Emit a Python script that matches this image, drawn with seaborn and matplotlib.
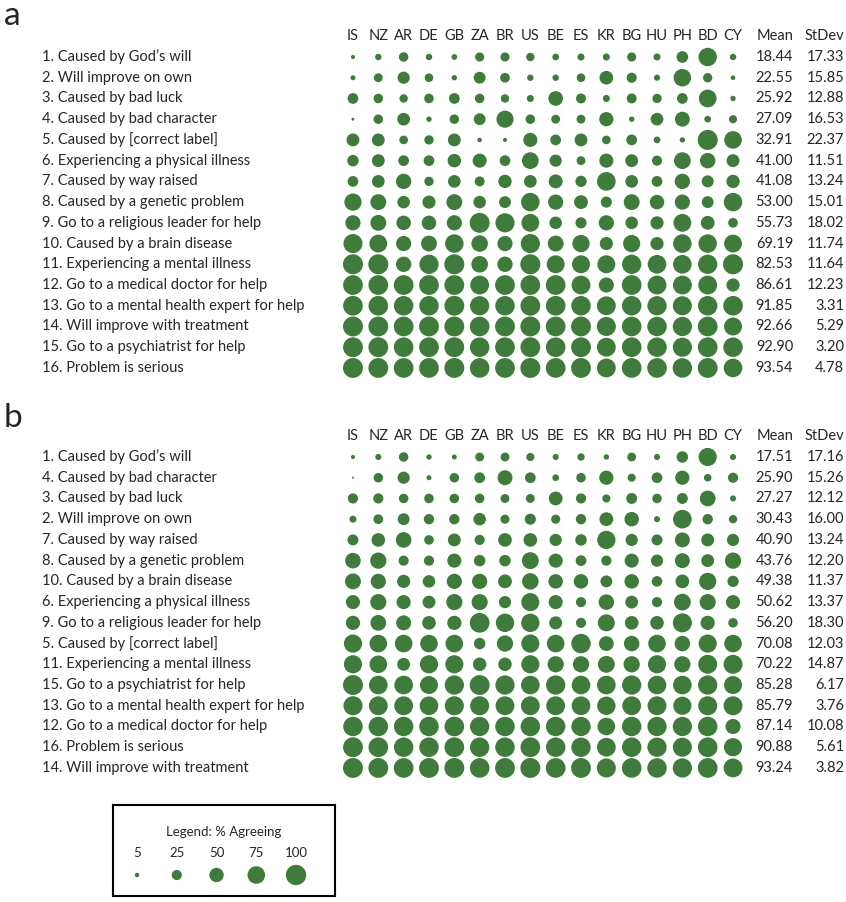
import matplotlib
matplotlib.use("Agg")
import matplotlib.pyplot as plt
import matplotlib.transforms as mtransforms
import pandas as pd
import seaborn as sns

# country columns (same for both panels)
countries = ["IS", "NZ", "AR", "DE", "GB", "ZA", "BR", "US",
             "BE", "ES", "KR", "BG", "HU", "PH", "BD", "CY"]

# panel a: items in original order
items_a = [
    "1. Caused by God\u2019s will",
    "2. Will improve on own",
    "3. Caused by bad luck",
    "4. Caused by bad character",
    "5. Caused by [correct label]",
    "6. Experiencing a physical illness",
    "7. Caused by way raised",
    "8. Caused by a genetic problem",
    "9. Go to a religious leader for help",
    "10. Caused by a brain disease",
    "11. Experiencing a mental illness",
    "12. Go to a medical doctor for help",
    "13. Go to a mental health expert for help",
    "14. Will improve with treatment",
    "15. Go to a psychiatrist for help",
    "16. Problem is serious",
]
pct_a = [
    [4, 10, 22, 10, 8, 20, 20, 17, 11, 12, 12, 20, 12, 33, 82, 10],
    [6, 19, 36, 18, 7, 34, 23, 10, 10, 18, 45, 25, 9, 74, 21, 5],
    [28, 22, 17, 22, 28, 22, 17, 12, 52, 24, 12, 24, 21, 28, 76, 7],
    [2, 22, 39, 7, 22, 34, 71, 22, 19, 19, 49, 7, 39, 54, 11, 16],
    [40, 40, 18, 21, 40, 5, 4, 48, 28, 40, 18, 28, 11, 7, 97, 75],
    [32, 40, 28, 28, 44, 48, 28, 68, 36, 19, 48, 40, 25, 68, 58, 40],
    [28, 39, 57, 21, 39, 24, 43, 39, 47, 31, 84, 39, 28, 57, 35, 43],
    [72, 61, 38, 42, 61, 38, 34, 83, 56, 46, 30, 61, 51, 56, 34, 83],
    [56, 61, 51, 51, 56, 96, 89, 77, 38, 30, 56, 38, 42, 77, 46, 23],
    [88, 77, 56, 61, 83, 66, 56, 89, 61, 72, 42, 72, 42, 83, 83, 77],
    [97, 97, 57, 90, 97, 67, 57, 97, 78, 78, 78, 90, 84, 84, 90, 97],
    [94, 94, 94, 94, 95, 86, 94, 94, 94, 86, 55, 94, 86, 86, 86, 42],
    [94, 93, 92, 92, 95, 90, 92, 95, 93, 92, 86, 92, 90, 88, 92, 93],
    [96, 95, 94, 95, 96, 93, 95, 96, 94, 95, 88, 93, 92, 90, 94, 78],
    [95, 95, 93, 94, 95, 92, 94, 95, 93, 94, 86, 93, 92, 89, 94, 92],
    [96, 95, 94, 94, 96, 93, 94, 96, 94, 95, 86, 94, 93, 92, 95, 84],
]
mean_a = ["18.44", "22.55", "25.92", "27.09", "32.91", "41.00", "41.08", "53.00",
          "55.73", "69.19", "82.53", "86.61", "91.85", "92.66", "92.90", "93.54"]
sd_a = ["17.33", "15.85", "12.88", "16.53", "22.37", "11.51", "13.24", "15.01",
        "18.02", "11.74", "11.64", "12.23", "3.31", "5.29", "3.20", "4.78"]

# panel b: items sorted by mean
items_b = [
    "1. Caused by God\u2019s will",
    "4. Caused by bad character",
    "3. Caused by bad luck",
    "2. Will improve on own",
    "7. Caused by way raised",
    "8. Caused by a genetic problem",
    "10. Caused by a brain disease",
    "6. Experiencing a physical illness",
    "9. Go to a religious leader for help",
    "5. Caused by [correct label]",
    "11. Experiencing a mental illness",
    "15. Go to a psychiatrist for help",
    "13. Go to a mental health expert for help",
    "12. Go to a medical doctor for help",
    "16. Problem is serious",
    "14. Will improve with treatment",
]
pct_b = [
    [4, 9, 22, 7, 6, 19, 19, 16, 9, 13, 7, 19, 9, 32, 80, 9],
    [1, 22, 36, 6, 22, 28, 54, 28, 11, 22, 49, 16, 28, 49, 14, 25],
    [25, 25, 22, 22, 22, 22, 19, 19, 46, 25, 16, 29, 22, 29, 60, 9],
    [12, 23, 34, 26, 26, 38, 20, 30, 20, 26, 46, 51, 9, 84, 26, 17],
    [29, 45, 59, 22, 40, 25, 45, 45, 36, 32, 81, 36, 29, 54, 40, 36],
    [59, 64, 25, 25, 48, 32, 32, 69, 48, 28, 25, 48, 36, 54, 40, 64],
    [61, 56, 42, 38, 56, 56, 46, 66, 51, 51, 34, 51, 27, 46, 72, 31],
    [48, 63, 48, 40, 63, 63, 36, 79, 48, 25, 58, 40, 25, 68, 63, 48],
    [49, 60, 54, 45, 49, 94, 82, 82, 41, 25, 70, 45, 45, 88, 49, 22],
    [80, 75, 75, 75, 75, 32, 64, 80, 75, 92, 53, 58, 75, 58, 80, 75],
    [80, 75, 40, 80, 80, 44, 44, 80, 64, 64, 69, 64, 80, 64, 87, 87],
    [96, 84, 84, 78, 90, 96, 90, 84, 90, 84, 84, 90, 84, 84, 90, 78],
    [88, 86, 86, 84, 88, 88, 86, 86, 86, 85, 82, 86, 86, 80, 88, 87],
    [92, 92, 92, 92, 93, 90, 92, 92, 92, 90, 75, 92, 90, 90, 92, 55],
    [95, 93, 92, 92, 94, 91, 92, 94, 92, 91, 85, 92, 90, 88, 93, 80],
    [96, 95, 94, 95, 96, 93, 95, 96, 94, 95, 88, 93, 92, 90, 94, 86],
]
mean_b = ["17.51", "25.90", "27.27", "30.43", "40.90", "43.76", "49.38", "50.62",
          "56.20", "70.08", "70.22", "85.28", "85.79", "87.14", "90.88", "93.24"]
sd_b = ["17.16", "15.26", "12.12", "16.00", "13.24", "12.20", "11.37", "13.37",
        "18.30", "12.03", "14.87", "6.17", "3.76", "10.08", "5.61", "3.82"]

legend_vals = [5, 25, 50, 75, 100]

GREEN = "#3f7b3a"
W, H = 846, 902
SIZES = (0, 214)   # area for 0..100 %, ~20 px across at 100


def to_long(pct):
    rows = []
    for i, vals in enumerate(pct):
        for j, v in enumerate(vals):
            rows.append({"row": i, "col": j, "pct": v})
    return pd.DataFrame(rows)


def draw_panel(fig, top_px, letter, letter_y, items, pct, means, sds):
    # columns sit 25.33 px apart starting at x=353, rows 20.73 px apart
    x0, x1 = 340.3, 745.7
    y0 = top_px - 10.37
    y1 = y0 + 16 * 20.73
    ax = fig.add_axes([x0 / W, 1 - y1 / H, (x1 - x0) / W, (y1 - y0) / H])
    df = to_long(pct)
    sns.scatterplot(data=df, x="col", y="row", size="pct", sizes=SIZES,
                    size_norm=(0, 100), color=GREEN, linewidth=0,
                    legend=False, ax=ax)
    ax.set_xlim(-0.5, 15.5)
    ax.set_ylim(15.5, -0.5)
    ax.axis("off")

    blend = mtransforms.blended_transform_factory(fig.transFigure, ax.transData)
    for j, c in enumerate(countries):
        ax.text(j, -1, c, ha="center", va="center", fontsize=10.5)
    ax.text(17.37, -1, "Mean", ha="right", va="center", fontsize=10.5)
    ax.text(19.39, -1, "StDev", ha="right", va="center", fontsize=10.5)
    for i, lab in enumerate(items):
        ax.text(42 / W, i, lab, transform=blend, ha="left", va="center", fontsize=10.5)
        ax.text(17.37, i, means[i], ha="right", va="center", fontsize=10.5)
        ax.text(19.39, i, sds[i], ha="right", va="center", fontsize=10.5)
    fig.text(4 / W, 1 - letter_y / H, letter, ha="left", va="center", fontsize=24)


sns.set_style("white")
plt.rcParams["font.family"] = ["Lato", "DejaVu Sans"]

fig = plt.figure(figsize=(W / 100, H / 100), dpi=100)

draw_panel(fig, 57, "a", 16, items_a, pct_a, mean_a, sd_a)
draw_panel(fig, 457, "b", 418, items_b, pct_b, mean_b, sd_b)

# legend box
lx0, lx1, ly0, ly1 = 113, 335, 805, 896
lax = fig.add_axes([lx0 / W, 1 - ly1 / H, (lx1 - lx0) / W, (ly1 - ly0) / H])
leg = pd.DataFrame({"x": range(len(legend_vals)), "y": [0] * len(legend_vals),
                    "pct": legend_vals})
sns.scatterplot(data=leg, x="x", y="y", size="pct", sizes=SIZES, size_norm=(0, 100),
                color=GREEN, linewidth=0, legend=False, ax=lax)
for k, v in enumerate(legend_vals):
    lax.text(k, 0.314, str(v), ha="center", va="center", fontsize=9.5)
lax.text(0.5, 0.70, "Legend: % Agreeing", transform=lax.transAxes,
         ha="center", va="center", fontsize=9.5)
lax.set_xlim(-0.604, 4.98)
lax.set_ylim(-0.3, 1.0)
lax.set_xticks([])
lax.set_yticks([])
lax.set_xlabel("")
lax.set_ylabel("")
for s in lax.spines.values():
    s.set_visible(True)
    s.set_color("black")
    s.set_linewidth(1.5)

fig.savefig("out.png", dpi=100)
